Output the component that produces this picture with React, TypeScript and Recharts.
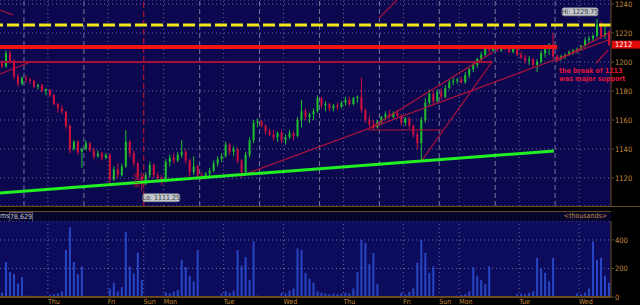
import React from "react";
import {
  Bar,
  CartesianGrid,
  ComposedChart,
  ReferenceDot,
  ReferenceLine,
  XAxis,
  YAxis,
} from "recharts";

// one row per 30-minute bar: [open, high, low, close]
const candles: number[][] = [
  [1199, 1201, 1196, 1197], [1197, 1208, 1196, 1206], [1206, 1208, 1199, 1200], [1200, 1202, 1188, 1190],
  [1190, 1192, 1183, 1185], [1185, 1190, 1184, 1189], [1189, 1191, 1186, 1188], [1188, 1189, 1185, 1187],
  [1187, 1188, 1182, 1183], [1183, 1185, 1181, 1184], [1184, 1185, 1179, 1180], [1180, 1182, 1177, 1181],
  [1181, 1181, 1176, 1177], [1177, 1178, 1170, 1171], [1171, 1172, 1165, 1168], [1168, 1170, 1164, 1166],
  [1166, 1166, 1154, 1156], [1156, 1157, 1137, 1140], [1140, 1146, 1139, 1145], [1145, 1146, 1136, 1138],
  [1138, 1141, 1127, 1140], [1140, 1146, 1139, 1144], [1144, 1145, 1138, 1139], [1139, 1141, 1133, 1135],
  [1135, 1139, 1134, 1137], [1137, 1138, 1132, 1134], [1134, 1137, 1133, 1136], [1136, 1137, 1116, 1119],
  [1119, 1128, 1118, 1126], [1126, 1130, 1120, 1122], [1122, 1130, 1121, 1128], [1128, 1153, 1127, 1145],
  [1145, 1146, 1134, 1137], [1137, 1139, 1128, 1130], [1130, 1131, 1119, 1121], [1121, 1124, 1111.25, 1117],
  [1117, 1124, 1115, 1122], [1122, 1131, 1120, 1129], [1129, 1130, 1120, 1122], [1122, 1124, 1118, 1120],
  [1120, 1122, 1115, 1118], [1118, 1133, 1117, 1131], [1131, 1136, 1128, 1134], [1134, 1137, 1130, 1132],
  [1132, 1138, 1131, 1136], [1136, 1146, 1134, 1138], [1138, 1140, 1130, 1132], [1132, 1133, 1121, 1124],
  [1124, 1135, 1122, 1128], [1128, 1129, 1120, 1122], [1122, 1124, 1119, 1121], [1121, 1124, 1119, 1123],
  [1123, 1127, 1120, 1125], [1125, 1132, 1124, 1130], [1130, 1135, 1128, 1133], [1133, 1137, 1131, 1135],
  [1135, 1145, 1134, 1143], [1143, 1144, 1136, 1138], [1138, 1142, 1135, 1140], [1140, 1141, 1130, 1132],
  [1132, 1133, 1120, 1124], [1124, 1138, 1123, 1136], [1136, 1148, 1134, 1146], [1146, 1160, 1144, 1158],
  [1158, 1161, 1155, 1159], [1159, 1160, 1155, 1156], [1156, 1157, 1150, 1152], [1152, 1154, 1149, 1150],
  [1150, 1153, 1146, 1148], [1148, 1152, 1145, 1151], [1151, 1153, 1144, 1146], [1146, 1150, 1143, 1148],
  [1148, 1153, 1147, 1151], [1151, 1152, 1146, 1149], [1149, 1162, 1148, 1160], [1160, 1174, 1155, 1166],
  [1166, 1168, 1160, 1162], [1162, 1165, 1158, 1164], [1164, 1168, 1160, 1166], [1166, 1177, 1165, 1175],
  [1175, 1176, 1168, 1170], [1170, 1173, 1166, 1171], [1171, 1172, 1166, 1168], [1168, 1171, 1166, 1170],
  [1170, 1172, 1167, 1169], [1169, 1173, 1168, 1172], [1172, 1176, 1170, 1174], [1174, 1176, 1170, 1171],
  [1171, 1176, 1170, 1175], [1175, 1177, 1172, 1176], [1176, 1189, 1165, 1167], [1167, 1168, 1158, 1160],
  [1160, 1163, 1155, 1157], [1157, 1160, 1153, 1155], [1155, 1160, 1154, 1159], [1159, 1163, 1157, 1162],
  [1162, 1166, 1160, 1164], [1164, 1167, 1161, 1162], [1162, 1166, 1161, 1165], [1165, 1167, 1162, 1163],
  [1163, 1164, 1156, 1158], [1158, 1162, 1156, 1161], [1161, 1162, 1154, 1156], [1156, 1157, 1148, 1150],
  [1150, 1152, 1140, 1144], [1144, 1162, 1132.5, 1160], [1160, 1175, 1158, 1172], [1172, 1181, 1170, 1178],
  [1178, 1180, 1170, 1173], [1173, 1181, 1172, 1179], [1179, 1182, 1174, 1176], [1176, 1184, 1175, 1182],
  [1182, 1188, 1181, 1186], [1186, 1189, 1184, 1187], [1187, 1189, 1185, 1188], [1188, 1190, 1185, 1186],
  [1186, 1193, 1185, 1191], [1191, 1196, 1189, 1195], [1195, 1200, 1193, 1198], [1198, 1203, 1196, 1202],
  [1202, 1207, 1200, 1205], [1205, 1210, 1204, 1209], [1209, 1210, 1206, 1208], [1208, 1211, 1207, 1210],
  [1210, 1211, 1207, 1208], [1208, 1211, 1207, 1210], [1210, 1211, 1208, 1209], [1209, 1210, 1206, 1207],
  [1207, 1210, 1206, 1209], [1209, 1210, 1204, 1205], [1205, 1207, 1202, 1203], [1203, 1205, 1199, 1201],
  [1201, 1204, 1198, 1202], [1202, 1203, 1196, 1198], [1198, 1202, 1193, 1200], [1200, 1208, 1199, 1206],
  [1206, 1211, 1203, 1209], [1209, 1213, 1205, 1212], [1212, 1220, 1202, 1204], [1204, 1205, 1201, 1202],
  [1202, 1205, 1201, 1204], [1204, 1206, 1202, 1205], [1205, 1208, 1204, 1207], [1207, 1209, 1205, 1208],
  [1208, 1210, 1206, 1209], [1209, 1212, 1208, 1211], [1211, 1217, 1210, 1215], [1215, 1218, 1213, 1216],
  [1216, 1219, 1214, 1218], [1218, 1229.75, 1217, 1226], [1226, 1228, 1216, 1218], [1218, 1225, 1216, 1220],
  [1220, 1222, 1211, 1212],
];

// volume per bar, thousands
const volumes = [
  30, 245, 175, 160, 95, 140, 10, 8, 6, 5, 6, 8, 15, 20, 25, 40, 330, 490, 245, 160,
  215, 8, 5, 6, 5, 4, 6, 60, 100, 40, 70, 455, 215, 165, 310, 120, 8, 6, 5, 8,
  10, 30, 25, 40, 50, 260, 210, 150, 110, 330, 8, 6, 5, 6, 8, 25, 40, 30, 45, 330,
  220, 280, 120, 390, 10, 6, 5, 6, 5, 8, 30, 25, 45, 60, 340, 330, 170, 130, 100, 40,
  30, 25, 20, 25, 20, 25, 30, 25, 60, 175, 400, 380, 230, 310, 90, 6, 5, 6, 5, 6,
  30, 20, 35, 60, 240, 400, 310, 170, 215, 8, 6, 5, 8, 6, 10, 15, 20, 40, 210, 150,
  120, 90, 215, 8, 6, 5, 5, 6, 5, 20, 25, 20, 30, 40, 275, 200, 170, 110, 275, 6,
  5, 6, 5, 6, 25, 20, 30, 60, 390, 260, 275, 150, 100,
];

const dayTicks = [11.5, 26.5, 35.5, 40.5, 55.5, 70.5, 85.5, 100.5, 109.5, 114.5, 129.5, 144.5];
const dayLabels = ["Thu", "Fri", "Sun", "Mon", "Tue", "Wed", "Thu", "Fri", "Sun", "Mon", "Tue", "Wed"];
const midnightLines = [11.5, 26.5, 40.5, 55.5, 70.5, 85.5, 100.5, 114.5, 129.5, 144.5];
const sessionBreaks = [5.5, 20.5, 49.5, 64.5, 79.5, 94.5, 109.5, 123.5, 138.5];
const lowDayLine = 35.5;

const priceTicks = [1120, 1140, 1160, 1180, 1200, 1220, 1240];
const volTicks = [0, 200, 400];

const resistance = 1225.5;
const brokenSupport = { y: 1210.3, from: -0.5, to: 139 };
const level1200 = { y: 1200, from: -0.5, to: 122.7 };
const boxLine = { y: 1153.1, from: 91.7, to: 110.4 };
const greenSupport = { x1: -0.5, y1: 1109.7, x2: 138.2, y2: 1138.6 };

const trendLines = [
  { x1: -0.5, y1: 1235.9, x2: 2.75, y2: 1232.4 },
  { x1: -0.5, y1: 1191.7, x2: 6.5, y2: 1199.3 },
  { x1: 60.4, y1: 1122.1, x2: 151.8, y2: 1215.2 },
  { x1: 92.2, y1: 1154.5, x2: 123, y2: 1206.9 },
  { x1: 105.2, y1: 1132.4, x2: 122.7, y2: 1200 },
  { x1: 94.4, y1: 1230.3, x2: 98.9, y2: 1242.8 },
  { x1: 138.5, y1: 1200, x2: 152.3, y2: 1220.7 },
  { x1: 148.8, y1: 1199.3, x2: 151.8, y2: 1208.3 },
];

const lastPrice = 1212;
const hiPoint = { x: 149, y: 1229.75 };
const loPoint = { x: 35, y: 1111.25 };
const notePoint = { x: 139.5, y: 1194.5 };

const FONT = "'Liberation Sans Narrow', 'DejaVu Sans Condensed', sans-serif";
const AXIS_TXT = "#c28a3c";
const BROWN = "#6b4a1c";
const X_DOMAIN: [number, number] = [-0.5, 152.5];

const priceData = candles.map((c, i) => ({ t: i, range: [c[2], c[1]], ohlc: c }));
const volData = volumes.map((v, i) => ({ t: i, vol: v }));

function Candle(props: any) {
  const { x, y, width, height, payload } = props;
  if (!payload) return null;
  const [o, h, l, c] = payload.ohlc;
  const color = c >= o ? "#1fbf2f" : "#d0103c";
  const top = Math.min(y, y + height);
  const span = Math.abs(height);
  const ratio = span / (h - l || 1);
  const bodyTop = top + (h - Math.max(o, c)) * ratio;
  const bodyH = Math.max(1, Math.abs(o - c) * ratio);
  const cx = x + width / 2;
  return (
    <g>
      <line x1={cx} x2={cx} y1={top} y2={top + span} stroke={color} strokeWidth={1} />
      <rect x={x} y={bodyTop} width={width} height={bodyH} fill={color} />
    </g>
  );
}

function tag(text: string, dx: number, dy: number, w: number) {
  return (props: any) => {
    const vb = props.viewBox || {};
    const px = (vb.x ?? 0) + (vb.width ?? 0) / 2;
    const py = (vb.y ?? 0) + (vb.height ?? 0) / 2;
    return (
      <g>
        <rect x={px + dx} y={py + dy} width={w} height={8} rx={2} fill="#c3c6cc" stroke="#8a8d94" strokeWidth={0.6} />
        <text x={px + dx + w / 2} y={py + dy + 6.2} textAnchor="middle" fontSize={7} fontFamily={FONT} fill="#3a3a3a">
          {text}
        </text>
      </g>
    );
  };
}

function NoteLabel(props: any) {
  const vb = props.viewBox || {};
  const px = (vb.x ?? 0) + (vb.width ?? 0) / 2;
  const py = (vb.y ?? 0) + (vb.height ?? 0) / 2;
  return (
    <g fontFamily={FONT} fontSize={7} fontWeight="bold" fill="#e0143a">
      <text x={px} y={py + 3}>the break of 1213</text>
      <text x={px} y={py + 11}>was major support</text>
    </g>
  );
}

function DateMark(props: any) {
  const vb = props.viewBox || {};
  const px = (vb.x ?? 0) + (vb.width ?? 0) / 2;
  const py = (vb.y ?? 0) + (vb.height ?? 0) / 2;
  return (
    <text x={px} y={py} transform={`rotate(-90 ${px} ${py})`} fontFamily={FONT} fontSize={7} fill="#c0102c">
      8/19
    </text>
  );
}

function LastTag(props: any) {
  const vb = props.viewBox || {};
  const right = (vb.x ?? 0) + (vb.width ?? 0);
  const py = vb.y ?? 0;
  return (
    <g>
      <rect x={right + 1} y={py - 4} width={28} height={8} fill="#e00a0a" />
      <text x={right + 4} y={py + 2.6} fontSize={7.5} fontFamily={FONT} fill="#ffffff">
        {lastPrice}
      </text>
    </g>
  );
}

function DayTick(props: any) {
  const { x, y, index } = props;
  return (
    <text x={x} y={y + 7} fontSize={7} fontFamily={FONT} fill={AXIS_TXT}>
      {dayLabels[index]}
    </text>
  );
}

export default function App() {
  return (
    <div style={{ position: "relative", width: 640, height: 305, background: "#000", overflow: "hidden" }}>
      <style>{"body{margin:0;background:#000}"}</style>

      <div style={{ position: "absolute", left: 0, top: 0 }}>
        <ComposedChart width={640} height={206} data={priceData} margin={{ top: 0, right: 0, bottom: 0, left: 0 }}>
          <CartesianGrid vertical={false} fill="#0b0850" stroke="#6c6c98" strokeDasharray="1 3" />
          <XAxis dataKey="t" type="number" domain={X_DOMAIN} hide />
          <YAxis
            orientation="right"
            width={29}
            domain={[1100.69, 1242.76]}
            ticks={priceTicks}
            tick={{ fill: AXIS_TXT, fontSize: 7.5, fontFamily: FONT }}
            tickSize={3}
            tickMargin={1}
            tickLine={{ stroke: BROWN }}
            axisLine={{ stroke: BROWN }}
            allowDataOverflow
          />
          {midnightLines.map((v) => (
            <ReferenceLine key={`m${v}`} x={v} stroke="#6c6c98" strokeDasharray="1 3" />
          ))}
          {sessionBreaks.map((v) => (
            <ReferenceLine key={`s${v}`} x={v} stroke="#74749a" strokeDasharray="5 3" />
          ))}
          <ReferenceLine x={lowDayLine} stroke="#d0102a" strokeDasharray="6 3" />

          <Bar dataKey="range" barSize={2} shape={Candle} isAnimationActive={false} />

          <ReferenceLine y={resistance} stroke="#f2e81c" strokeWidth={3} strokeDasharray="12 4" />
          <ReferenceLine
            segment={[{ x: brokenSupport.from, y: brokenSupport.y }, { x: brokenSupport.to, y: brokenSupport.y }]}
            stroke="#f41414"
            strokeWidth={4}
          />
          <ReferenceLine
            segment={[{ x: level1200.from, y: level1200.y }, { x: level1200.to, y: level1200.y }]}
            stroke="#a8103c"
            strokeWidth={2}
          />
          <ReferenceLine
            segment={[{ x: boxLine.from, y: boxLine.y }, { x: boxLine.to, y: boxLine.y }]}
            stroke="#b01034"
            strokeWidth={1.2}
          />
          {trendLines.map((s, i) => (
            <ReferenceLine
              key={`tl${i}`}
              segment={[{ x: s.x1, y: s.y1 }, { x: s.x2, y: s.y2 }]}
              stroke="#b8103a"
              strokeWidth={1.2}
              ifOverflow="hidden"
            />
          ))}
          <ReferenceLine
            segment={[{ x: greenSupport.x1, y: greenSupport.y1 }, { x: greenSupport.x2, y: greenSupport.y2 }]}
            stroke="#22f022"
            strokeWidth={3}
          />

          <ReferenceDot x={hiPoint.x} y={hiPoint.y} r={1} fill="none" stroke="none" label={tag("Hi: 1229.75", -35, -11, 36)} />
          <ReferenceDot x={loPoint.x} y={loPoint.y} r={1} fill="none" stroke="none" label={tag("Lo: 1111.25", 1, 3, 37)} />
          <ReferenceDot x={notePoint.x} y={notePoint.y} r={1} fill="none" stroke="none" label={NoteLabel} />
          <ReferenceDot x={34.3} y={1113.5} r={1} fill="none" stroke="none" label={DateMark} />
          <ReferenceLine y={lastPrice} stroke="none" label={LastTag} />
        </ComposedChart>
      </div>

      <div style={{ position: "absolute", left: 0, top: 206, width: 640, height: 1, background: BROWN }} />
      <div
        style={{
          position: "absolute",
          left: 0,
          top: 211,
          width: 611,
          height: 9,
          background: "#06062c",
          borderTop: `1px solid ${BROWN}`,
          borderBottom: `1px solid ${BROWN}`,
          fontFamily: FONT,
          fontSize: 7,
          lineHeight: "9px",
          color: "#c8c8d0",
        }}
      >
        <span style={{ position: "absolute", left: 0 }}>ms</span>
        <span style={{ position: "absolute", left: 9, top: 0, width: 22, height: 8, border: "1px solid #55557a", lineHeight: "8px", textAlign: "center" }}>
          78,629
        </span>
        <span style={{ position: "absolute", right: 4, color: AXIS_TXT }}>&lt;thousands&gt;</span>
      </div>

      <div style={{ position: "absolute", left: 0, top: 221 }}>
        <ComposedChart width={640} height={84} data={volData} margin={{ top: 0, right: 0, bottom: 0, left: 0 }}>
          <CartesianGrid vertical={false} fill="#0c0b5c" stroke="#6c6c98" strokeDasharray="1 3" />
          <XAxis
            dataKey="t"
            type="number"
            domain={X_DOMAIN}
            ticks={dayTicks}
            interval={0}
            height={8}
            tickSize={0}
            tickMargin={0}
            tickLine={false}
            axisLine={{ stroke: BROWN, strokeWidth: 2 }}
            tick={DayTick}
          />
          <YAxis
            orientation="right"
            width={29}
            domain={[0, 533]}
            ticks={volTicks}
            tick={{ fill: AXIS_TXT, fontSize: 7.5, fontFamily: FONT }}
            tickSize={3}
            tickMargin={1}
            tickLine={{ stroke: BROWN }}
            axisLine={{ stroke: BROWN }}
          />
          {dayTicks.map((v) => (
            <ReferenceLine key={`v${v}`} x={v} stroke="#6c6c98" strokeDasharray="1 3" />
          ))}
          <Bar dataKey="vol" barSize={2} fill="#2846c4" isAnimationActive={false} />
        </ComposedChart>
      </div>
    </div>
  );
}
